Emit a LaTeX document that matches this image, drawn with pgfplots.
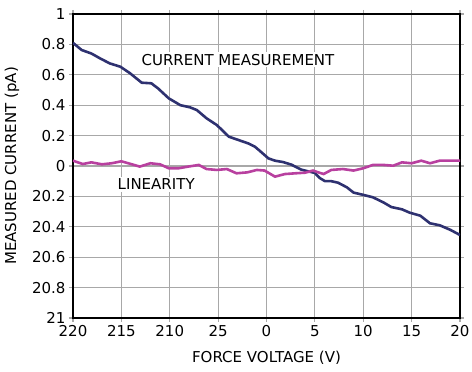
\documentclass[border=0pt]{standalone}
\usepackage{pgfplots}
\pgfplotsset{compat=1.18}
\usepackage{fontspec}
\setmainfont{DejaVu Sans}
\definecolor{curblue}{HTML}{2E3170}
\definecolor{linmag}{HTML}{B8409F}
\definecolor{gridgray}{HTML}{A8A8A8}
\begin{document}
\begin{tikzpicture}
\useasboundingbox (-73pt,-54pt) rectangle (399pt,318pt);
\begin{axis}[
  at={(0pt,0pt)}, anchor=south west,
  scale only axis, width=387pt, height=304pt,
  xmin=-20, xmax=20, ymin=-1, ymax=1,
  xtick={-20,-15,-10,-5,0,5,10,15,20},
  xticklabels={220,215,210,25,0,5,10,15,20},
  ytick={-1,-0.8,-0.6,-0.4,-0.2,0,0.2,0.4,0.6,0.8,1},
  yticklabels={21,20.8,20.6,20.4,20.2,0,0.2,0.4,0.6,0.8,1},
  grid=major,
  grid style={color=gridgray, line width=1.1pt},
  tick style={color=gridgray, line width=1.1pt},
  tick align=outside, major tick length=4pt,
  axis line style={line width=2.4pt, black},
  font=\fontsize{15}{18}\selectfont,
  xlabel={FORCE VOLTAGE (V)},
  ylabel={MEASURED CURRENT (pA)},
  every axis x label/.style={at={(rel axis cs:0.5,0)}, yshift=-40pt, anchor=center},
  every axis y label/.style={at={(rel axis cs:0,0.5)}, xshift=-61pt, rotate=90, anchor=center},
]
\addplot[curblue, line width=2.6pt] coordinates {
(-20,0.81) (-19.1,0.763) (-18.1,0.74) (-17.2,0.708) (-16.2,0.675) (-15.1,0.653)
(-14.1,0.61) (-12.9,0.548) (-11.9,0.544) (-11.2,0.51) (-10.1,0.445) (-8.9,0.40)
(-7.9,0.386) (-7.2,0.368) (-6.2,0.314) (-5.15,0.27) (-4.6,0.237) (-3.9,0.193)
(-2.9,0.171) (-1.9,0.149) (-1.2,0.127) (-0.7,0.10) (0.2,0.05) (0.88,0.035)
(1.7,0.026) (2.57,0.009) (3.6,-0.024) (4.3,-0.035) (5.0,-0.046) (5.5,-0.079)
(6.05,-0.10) (6.7,-0.10) (7.4,-0.11) (8.3,-0.14) (9.0,-0.175) (10.0,-0.19)
(11.0,-0.206) (12.1,-0.24) (12.9,-0.27) (14.0,-0.285) (14.8,-0.307) (15.9,-0.327)
(16.9,-0.377) (17.9,-0.39) (19.0,-0.42) (20,-0.454)
};
\addplot[linmag, line width=2.6pt] coordinates {
(-20,0.035) (-19.0,0.013) (-18.1,0.024) (-17.0,0.011) (-16.0,0.018) (-15.0,0.031)
(-13.9,0.011) (-13.1,-0.004) (-12.0,0.018) (-11.0,0.011) (-10.1,-0.015) (-9.1,-0.015)
(-8.1,-0.004) (-7.0,0.007) (-6.2,-0.02) (-5.15,-0.026) (-4.1,-0.02) (-3.1,-0.048)
(-2.0,-0.042) (-1.0,-0.026) (-0.2,-0.03) (0.88,-0.07) (1.9,-0.053) (3.0,-0.048)
(4.0,-0.044) (4.8,-0.03) (5.9,-0.053) (6.7,-0.026) (7.9,-0.02) (9.0,-0.03)
(10.0,-0.015) (11.0,0.007) (12.1,0.007) (13.1,0.002) (14.0,0.024) (15.0,0.018)
(16.0,0.035) (16.9,0.018) (17.9,0.035) (19.0,0.035) (20,0.035)
};
\node[fill=white, inner sep=2pt] at (axis cs:-2.95,0.70) {CURRENT MEASUREMENT};
\node[fill=white, inner sep=2pt] at (axis cs:-11.4,-0.12) {LINEARITY};
\end{axis}
\end{tikzpicture}
\end{document}
